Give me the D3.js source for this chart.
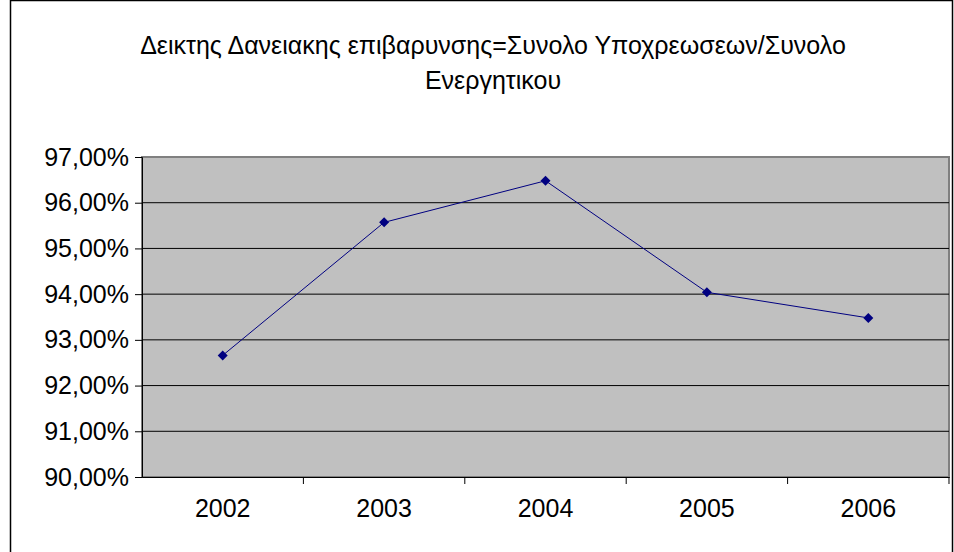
<!DOCTYPE html>
<html><head><meta charset="utf-8">
<script src="https://cdn.jsdelivr.net/npm/d3@7"></script>
<style>body{margin:0;background:#fff;overflow:hidden}text{font-family:Arial,"Liberation Sans",sans-serif}</style>
</head><body><svg id="chart" width="954" height="552"></svg>
<script>
const years = ['2002', '2003', '2004', '2005', '2006']
const values = [92.66, 95.57, 96.48, 94.04, 93.48]
const yTicks = [90, 91, 92, 93, 94, 95, 96, 97]
const titleLines = ['\u0394\u03b5\u03b9\u03ba\u03c4\u03b7\u03c2 \u0394\u03b1\u03bd\u03b5\u03b9\u03b1\u03ba\u03b7\u03c2 \u03b5\u03c0\u03b9\u03b2\u03b1\u03c1\u03c5\u03bd\u03c3\u03b7\u03c2=\u03a3\u03c5\u03bd\u03bf\u03bb\u03bf \u03a5\u03c0\u03bf\u03c7\u03c1\u03b5\u03c9\u03c3\u03b5\u03c9\u03bd/\u03a3\u03c5\u03bd\u03bf\u03bb\u03bf', '\u0395\u03bd\u03b5\u03c1\u03b3\u03b7\u03c4\u03b9\u03ba\u03bf\u03c5']

const svg = d3.select('#chart')
const m = {left: 142, right: 949, top: 157, bottom: 477}

svg.append('rect').attr('x', 10.5).attr('y', 0.5).attr('width', 942).attr('height', 570)
  .attr('fill', 'none').attr('stroke', '#000').attr('stroke-width', 1.5)

const x = d3.scaleBand().domain(years).range([m.left, m.right])
const y = d3.scaleLinear().domain([90, 97]).range([m.bottom, m.top])

svg.append('rect').attr('x', m.left).attr('y', m.top)
  .attr('width', m.right - m.left).attr('height', m.bottom - m.top)
  .attr('fill', '#c0c0c0').attr('stroke', '#808080').attr('stroke-width', 2)

svg.append('g').selectAll('line').data(yTicks.slice(1, -1)).join('line')
  .attr('x1', m.left).attr('x2', m.right).attr('y1', d => y(d)).attr('y2', d => y(d))
  .attr('stroke', '#000')

const ya = svg.append('g').attr('transform', `translate(${m.left},0)`)
  .call(d3.axisLeft(y).tickValues(yTicks).tickSize(7).tickPadding(6)
    .tickFormat(d => d3.format('.2f')(d).replace('.', ',') + '%'))
ya.selectAll('text').attr('font-size', 25).attr('fill', '#000')

const xa = svg.append('g').attr('transform', `translate(0,${m.bottom})`)
  .call(d3.axisBottom(x).tickSize(0).tickPadding(22))
xa.selectAll('text').attr('font-size', 25).attr('fill', '#000')
xa.selectAll('.tick').append('line')
  .attr('x1', x.bandwidth() / 2).attr('x2', x.bandwidth() / 2)
  .attr('y1', 0).attr('y2', 7).attr('stroke', '#000')
svg.selectAll('.domain').attr('stroke', '#000')

const cx = d => x(d) + x.bandwidth() / 2
svg.append('path').datum(values)
  .attr('d', d3.line().x((d, i) => cx(years[i])).y(d => y(d)))
  .attr('fill', 'none').attr('stroke', '#000080').attr('stroke-width', 1)
svg.append('g').selectAll('path').data(values).join('path')
  .attr('d', d3.symbol(d3.symbolSquare, 50))
  .attr('transform', (d, i) => `translate(${cx(years[i])},${y(d)}) rotate(45)`)
  .attr('fill', '#000080')

svg.append('g').selectAll('text').data(titleLines).join('text')
  .attr('x', 493).attr('y', (d, i) => 54 + i * 35).attr('text-anchor', 'middle')
  .attr('font-size', 25).text(d => d)
</script></body></html>
